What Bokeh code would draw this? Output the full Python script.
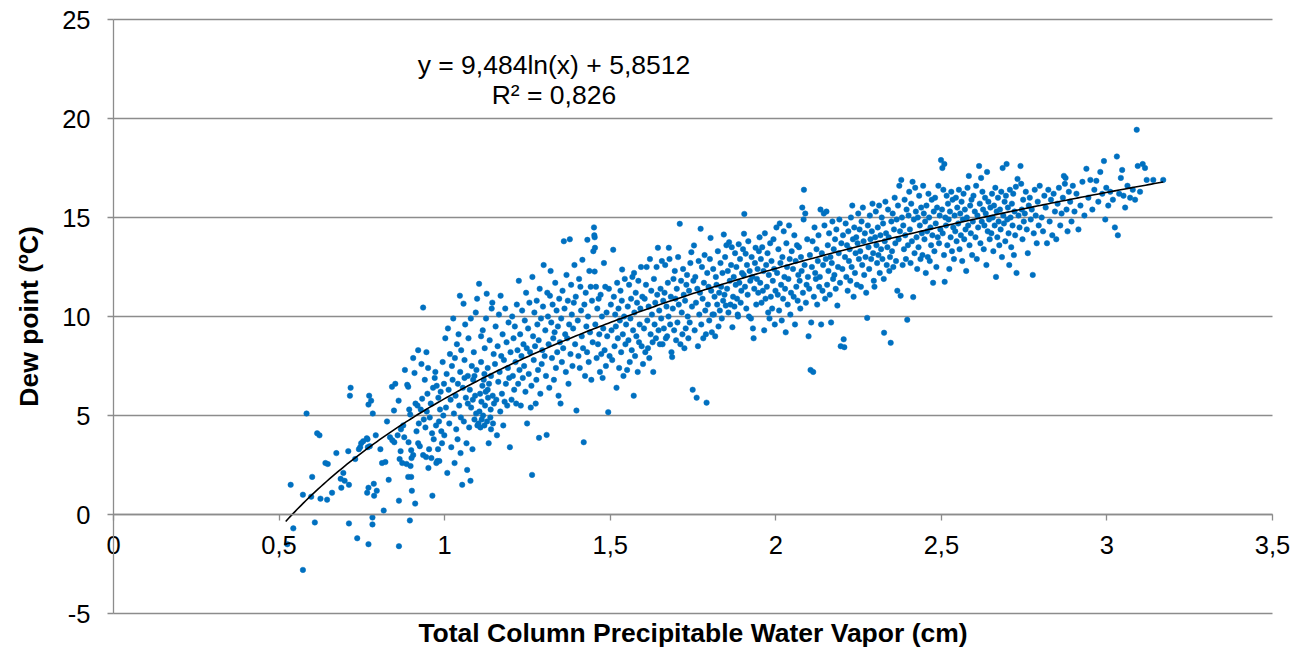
import numpy as np
from bokeh.plotting import figure
from bokeh.models import Label, FixedTicker, CustomJSTickFormatter, Range1d
from bokeh.embed import file_html
from bokeh.resources import INLINE

# ---- data (Total column precipitable water vapour [cm], dew point [ºC]) ----
pts_050_100 = [
    (0.525,-1.5),(0.535,1.5),(0.543,-0.7),(0.572,-2.8),(0.572,1.0),(0.583,5.1),(0.597,0.9),(0.600,1.9),(0.608,-0.4),
    (0.615,4.1),(0.622,4.0),(0.625,0.8),(0.640,2.6),(0.647,2.55),(0.645,0.75),(0.660,1.1),(0.673,3.1),(0.686,1.8),
    (0.688,1.35),(0.694,2.1),(0.698,1.7),
    (0.709,3.2),(0.711,1.5),(0.711,-0.45),(0.714,6.0),(0.716,6.4),(0.730,2.8),(0.736,-1.2),(0.741,3.3),(0.745,3.4),
    (0.748,3.6),(0.754,3.7),(0.765,3.85),(0.766,1.1),(0.767,3.8),(0.768,3.4),(0.770,-1.5),(0.770,1.35),(0.770,5.55),
    (0.772,6.0),(0.774,3.45),(0.778,5.75),(0.782,-0.15),(0.782,-0.5),(0.783,5.1),(0.786,1.55),(0.787,0.95),(0.792,4.0),
    (0.795,1.2),
    (0.806,3.3),(0.811,2.6),(0.816,0.2),(0.821,2.65),(0.826,4.7),(0.831,1.75),(0.835,3.9),(0.841,6.45),(0.842,3.75),
    (0.847,5.25),(0.848,3.65),(0.851,6.6),(0.858,4.0),(0.861,5.75),(0.862,0.7),(0.862,-1.6),(0.864,2.8),(0.867,3.2),
    (0.868,4.3),(0.872,2.6),(0.875,4.5),(0.878,3.9),(0.880,7.3),(0.885,2.55),(0.887,6.55),(0.890,1.9),(0.890,6.45),
    (0.891,3.65),(0.893,5.3),(0.895,-0.3),(0.896,5.05),(0.897,2.45),(0.899,1.9),(0.899,3.25),(0.900,2.85),
    (0.901,1.2),(0.905,3.0),(0.905,7.9),(0.909,7.15),(0.911,0.55),(0.912,5.6),(0.915,4.2),(0.918,5.5),(0.920,3.6),
    (0.920,8.3),(0.922,4.6),(0.925,3.45),(0.928,5.3),(0.930,7.6),(0.932,5.85),(0.935,10.45),(0.935,3.0),(0.937,4.8),
    (0.940,6.8),(0.942,4.4),(0.944,2.9),(0.945,8.2),(0.946,5.2),(0.948,6.1),(0.950,7.4),(0.951,2.35),(0.953,3.3),
    (0.955,4.9),(0.958,5.6),(0.960,2.85),(0.962,4.1),(0.963,0.95),(0.965,6.4),(0.967,3.8),(0.970,6.9),(0.972,7.2),
    (0.974,4.5),(0.975,2.6),(0.976,6.5),(0.978,2.7),(0.980,3.3),(0.981,5.9),(0.983,4.7),(0.984,2.7),(0.986,5.3),
    (0.988,6.2),(0.990,4.2),(0.992,3.6),(0.994,7.7),(0.996,5.0),(0.998,6.6),(0.999,4.0),
]

pts_100_150 = [
    (1.002,8.9),(1.004,5.4),(1.006,7.1),(1.008,2.1),(1.010,9.4),(1.012,6.3),(1.014,4.6),(1.016,8.1),(1.018,5.8),
    (1.020,3.4),(1.022,7.5),(1.024,6.8),(1.026,9.9),(1.028,5.1),(1.030,2.6),(1.031,7.9),(1.033,6.0),(1.035,4.3),
    (1.037,8.6),(1.039,3.8),(1.040,6.6),(1.042,9.1),(1.044,5.5),(1.046,11.05),(1.047,7.2),(1.048,3.1),(1.049,4.9),
    (1.050,8.3),
    (1.053,1.5),(1.055,6.4),(1.057,10.65),(1.058,4.7),(1.060,7.8),(1.062,9.6),(1.064,5.9),(1.066,3.6),(1.068,2.25),
    (1.070,7.0),(1.072,8.9),(1.074,4.4),(1.076,6.3),(1.078,1.7),(1.079,9.9),(1.080,5.4),(1.082,7.5),(1.084,3.3),
    (1.086,6.8),(1.088,8.2),(1.090,4.8),(1.092,6.0),(1.094,10.2),(1.095,5.1),(1.096,7.3),(1.098,10.9),(1.099,4.5),
    (1.060,6.9),(1.070,5.6),(1.085,5.8),(1.090,7.0),
    (1.102,4.6),(1.104,11.65),(1.105,5.2),(1.107,6.1),(1.108,4.4),(1.110,7.7),(1.111,5.7),(1.112,4.8),(1.114,6.5),
    (1.115,9.3),(1.116,5.0),(1.118,6.8),(1.120,4.5),(1.121,8.4),(1.122,5.5),(1.124,6.2),(1.125,9.9),(1.127,11.15),
    (1.128,4.7),(1.130,7.4),(1.131,5.9),(1.133,3.6),(1.134,6.6),(1.136,8.8),(1.138,4.9),(1.139,5.3),(1.140,7.0),
    (1.142,10.4),(1.144,10.7),(1.145,6.0),(1.146,4.6),(1.148,8.1),(1.149,5.6),(1.120,7.1),(1.130,6.3),(1.140,4.3),
    (1.110,9.0),
    (1.152,7.6),(1.154,9.5),(1.156,5.8),(1.158,4.0),(1.160,8.5),(1.162,6.7),(1.164,10.1),(1.166,7.2),(1.168,5.2),
    (1.169,11.05),(1.171,8.0),(1.173,6.1),(1.175,9.1),(1.177,4.5),(1.179,7.8),(1.181,5.7),(1.183,10.4),(1.185,6.6),
    (1.187,8.7),(1.189,5.5),(1.191,7.4),(1.193,9.7),(1.195,6.9),(1.197,3.4),(1.199,8.2),
    (1.202,5.8),(1.204,10.0),(1.206,7.0),(1.208,8.9),(1.210,6.3),(1.212,9.5),(1.214,7.7),(1.216,5.6),(1.218,10.6),
    (1.220,8.3),(1.222,6.6),(1.224,11.8),(1.226,7.3),(1.228,9.1),(1.230,5.5),(1.232,8.0),(1.234,10.3),(1.236,6.9),
    (1.238,8.6),(1.240,7.5),(1.242,9.8),(1.244,6.2),(1.246,11.2),(1.248,8.4),(1.249,4.6),
    (1.252,9.4),(1.254,7.1),(1.256,10.7),(1.258,8.2),(1.260,5.4),(1.262,6.5),(1.264,2.0),(1.265,12.0),(1.267,9.0),
    (1.269,7.8),(1.271,10.2),(1.273,8.5),(1.275,5.6),(1.277,6.8),(1.278,10.8),(1.280,9.6),(1.282,7.3),(1.284,8.8),
    (1.285,3.87),(1.287,11.4),(1.289,6.1),(1.291,9.9),(1.293,7.6),(1.295,8.3),(1.297,10.5),(1.299,12.6),
    (1.302,8.0),(1.304,9.3),(1.306,7.0),(1.308,4.02),(1.310,11.2),(1.312,10.0),(1.314,8.6),(1.316,6.4),(1.318,11.05),
    (1.320,12.3),(1.322,9.7),(1.324,7.9),(1.326,10.6),(1.328,8.9),(1.330,6.8),(1.332,9.2),(1.334,11.7),(1.336,7.4),
    (1.338,10.3),(1.340,8.2),(1.342,9.5),(1.344,6.0),(1.346,10.9),(1.348,8.7),(1.350,5.6),
    (1.352,9.9),(1.354,7.7),(1.356,11.3),(1.358,8.4),(1.360,13.8),(1.362,10.4),(1.364,9.1),(1.366,7.2),(1.368,12.1),
    (1.370,8.9),(1.372,10.8),(1.374,6.6),(1.376,9.6),(1.378,13.9),(1.380,8.1),(1.382,11.6),(1.384,10.1),(1.386,7.5),
    (1.388,9.4),(1.390,10.7),(1.392,12.6),(1.394,8.6),(1.396,11.0),(1.398,5.25),
    (1.402,9.8),(1.404,8.0),(1.406,11.9),(1.408,7.4),(1.410,11.5),(1.412,10.3),(1.414,9.0),(1.416,12.86),(1.418,8.4),
    (1.420,3.65),(1.422,10.6),(1.424,7.0),(1.426,11.2),(1.428,9.5),(1.430,8.2),(1.431,13.87),(1.433,10.0),(1.435,7.7),
    (1.437,12.3),(1.439,9.2),(1.441,11.5),(1.443,6.8),(1.445,10.8),(1.447,8.7),(1.449,13.3),
    (1.451,14.5),(1.452,14.1),(1.453,14.0),(1.454,13.47),(1.453,12.27),(1.455,9.6),(1.457,11.5),(1.459,7.9),(1.461,10.4),
    (1.463,8.6),(1.465,10.9),(1.467,9.1),(1.469,7.2),(1.471,11.1),(1.473,8.1),(1.475,10.0),(1.477,6.9),(1.479,9.4),
    (1.481,12.7),(1.483,8.3),(1.485,11.5),(1.487,7.5),(1.489,10.2),(1.491,9.0),(1.494,5.17),(1.496,11.4),(1.498,8.0),
]

pts_150_200 = [
    (1.502,10.6),(1.504,9.3),(1.506,7.8),(1.509,13.37),(1.511,11.0),(1.513,8.5),(1.515,10.1),(1.517,9.5),(1.519,6.4),
    (1.521,11.7),(1.523,8.9),(1.525,10.4),(1.527,7.4),(1.529,9.8),(1.531,11.3),(1.533,8.2),(1.535,10.8),(1.536,12.37),
    (1.538,9.1),(1.540,7.0),(1.542,10.0),(1.544,11.9),(1.546,8.6),(1.548,9.6),
    (1.551,7.3),(1.553,10.5),(1.555,8.8),(1.557,11.6),(1.559,7.7),(1.561,9.9),(1.563,10.9),(1.565,8.3),(1.567,12.0),
    (1.569,9.3),(1.571,6.0),(1.572,12.2),(1.573,10.2),(1.575,8.0),(1.577,11.2),(1.579,9.0),(1.581,10.7),(1.583,7.2),
    (1.585,11.8),(1.587,8.7),(1.589,9.6),(1.591,10.4),(1.593,12.5),(1.595,8.5),(1.597,11.0),(1.599,7.6),
    (1.602,9.4),(1.604,10.9),(1.606,8.2),(1.608,11.6),(1.610,12.5),(1.612,9.8),(1.614,8.4),(1.616,10.5),(1.618,7.9),
    (1.620,12.9),(1.622,9.1),(1.624,11.3),(1.626,10.1),(1.628,8.7),(1.630,7.2),(1.632,11.9),(1.634,9.6),(1.636,10.7),
    (1.638,8.9),(1.640,12.5),(1.642,11.1),(1.644,13.47),(1.646,9.3),(1.648,10.3),(1.650,8.6),
    (1.652,11.4),(1.654,9.9),(1.656,12.8),(1.658,8.6),(1.660,10.8),(1.662,9.4),(1.664,11.2),(1.666,12.6),(1.668,8.9),
    (1.670,10.5),(1.672,9.0),(1.674,11.7),(1.676,10.0),(1.677,13.47),(1.679,12.9),(1.681,9.6),(1.683,11.0),(1.685,8.2),
    (1.687,7.95),(1.689,10.4),(1.691,11.9),(1.693,9.3),(1.695,12.3),(1.697,10.9),(1.699,8.8),
    (1.701,11.4),(1.703,9.7),(1.705,13.0),(1.707,10.6),(1.710,14.68),(1.712,8.6),(1.714,11.8),(1.716,10.2),(1.718,9.1),
    (1.720,12.4),(1.722,11.1),(1.724,8.4),(1.726,10.8),(1.728,9.4),(1.730,11.6),(1.732,12.1),(1.734,10.0),(1.736,8.9),
    (1.738,11.3),(1.740,9.7),(1.742,12.7),(1.745,13.25),(1.747,10.5),(1.749,6.3),
    (1.751,11.8),(1.753,13.59),(1.755,9.3),(1.757,12.0),(1.759,10.7),(1.761,5.9),(1.763,11.4),(1.765,8.5),(1.767,12.8),
    (1.769,10.1),(1.771,11.2),(1.773,14.43),(1.775,9.6),(1.777,12.5),(1.779,10.9),(1.781,8.9),(1.783,11.7),(1.785,13.1),
    (1.787,10.3),(1.789,9.1),(1.791,5.65),(1.793,12.2),(1.795,10.6),(1.797,11.5),(1.799,9.8),
    (1.801,12.9),(1.803,13.97),(1.805,11.3),(1.807,9.2),(1.809,10.1),(1.811,12.4),(1.813,10.1),(1.815,11.0),(1.817,9.0),
    (1.819,12.0),(1.821,11.6),(1.823,10.6),(1.825,13.3),(1.827,9.5),(1.829,11.2),(1.831,10.3),(1.833,12.7),(1.835,11.5),
    (1.837,9.9),(1.839,12.2),(1.841,10.8),(1.843,14.14),(1.845,11.1),(1.847,13.0),(1.849,10.55),
    (1.851,13.6),(1.853,11.4),(1.855,12.3),(1.857,10.2),(1.859,13.75),(1.861,11.8),(1.863,10.6),(1.865,12.6),(1.867,13.5),
    (1.869,9.46),(1.871,11.0),(1.873,12.0),(1.875,10.5),(1.877,13.2),(1.879,11.6),(1.881,12.5),(1.883,10.9),(1.885,10.1),
    (1.886,10.0),(1.888,13.65),(1.890,11.7),(1.892,12.9),(1.894,10.7),(1.896,11.3),(1.898,12.2),
    (1.901,13.4),(1.903,12.1),(1.904,14.18),(1.905,15.18),(1.907,11.5),(1.909,13.17),(1.911,10.4),(1.913,12.6),(1.915,11.1),
    (1.917,13.8),(1.919,10.0),(1.921,12.3),(1.923,11.8),(1.925,9.9),(1.927,13.0),(1.929,12.0),(1.931,9.4),(1.933,8.9),
    (1.935,11.4),(1.937,12.7),(1.939,13.47),(1.941,10.6),(1.943,11.9),(1.945,12.4),(1.947,11.2),(1.949,13.3),
    (1.951,14.0),(1.953,11.7),(1.955,12.9),(1.957,10.7),(1.959,13.5),(1.961,11.3),(1.963,12.3),(1.965,9.3),(1.967,14.2),
    (1.969,10.9),(1.971,12.6),(1.973,11.5),(1.975,13.2),(1.977,10.2),(1.979,12.1),(1.981,9.9),(1.983,13.7),(1.985,11.0),
    (1.987,12.8),(1.989,10.4),(1.991,11.8),(1.993,13.9),(1.995,12.4),(1.997,9.6),(1.999,11.3),
]

pts_200_250 = [
    (2.002,14.5),(2.004,12.2),(2.006,11.1),(2.008,13.4),(2.010,10.3),(2.012,14.7),(2.014,12.7),(2.016,11.6),(2.018,9.8),
    (2.020,13.0),(2.022,10.9),(2.024,14.3),(2.026,12.0),(2.028,11.4),(2.030,9.2),(2.032,13.7),(2.034,12.5),(2.036,10.6),
    (2.038,11.9),(2.040,14.6),(2.042,12.9),(2.044,10.1),(2.046,11.2),(2.048,13.3),
    (2.052,12.4),(2.054,11.0),(2.056,14.1),(2.058,9.6),(2.060,12.8),(2.062,11.5),(2.064,13.6),(2.066,10.8),(2.068,12.1),
    (2.070,13.5),(2.072,11.8),(2.074,10.4),(2.076,13.0),(2.078,12.3),(2.080,15.5),(2.082,11.2),(2.084,14.9),(2.085,16.4),
    (2.087,12.6),(2.089,15.2),(2.091,10.7),(2.093,11.6),(2.095,13.9),(2.097,12.0),(2.099,9.0),
    (2.101,11.4),(2.103,13.1),(2.105,7.3),(2.107,9.7),(2.109,12.5),(2.111,13.8),(2.113,7.2),(2.115,11.0),(2.117,14.5),
    (2.119,12.2),(2.121,11.9),(2.123,13.4),(2.125,10.6),(2.127,12.8),(2.129,14.1),(2.131,11.5),(2.133,12.0),(2.135,15.4),
    (2.137,9.6),(2.139,13.2),(2.141,11.3),(2.143,12.6),(2.145,15.2),(2.147,14.6),(2.149,10.9),
    (2.151,12.9),(2.153,15.3),(2.155,11.6),(2.157,13.6),(2.159,12.3),(2.161,14.2),(2.163,11.1),(2.165,13.0),(2.167,9.7),
    (2.169,12.7),(2.171,14.8),(2.173,11.9),(2.175,13.4),(2.177,12.1),(2.179,13.9),(2.181,11.4),(2.183,14.4),(2.186,10.55),
    (2.188,12.5),(2.190,13.2),(2.192,14.9),(2.194,11.7),(2.196,8.5),(2.198,13.7),
    (2.201,12.4),(2.203,14.1),(2.205,8.85),(2.207,8.45),(2.209,13.0),(2.211,14.7),(2.213,12.0),(2.215,13.6),(2.217,11.3),
    (2.219,14.3),(2.221,12.8),(2.223,13.4),(2.225,11.8),(2.227,15.0),(2.229,12.5),(2.231,15.6),(2.233,13.9),(2.235,11.0),
    (2.237,14.5),(2.239,12.2),(2.241,13.2),(2.243,14.0),(2.245,11.6),(2.247,13.7),(2.249,15.2),
    (2.251,12.9),(2.253,14.4),(2.255,13.3),(2.257,11.5),(2.259,14.8),(2.261,12.6),(2.263,15.5),(2.265,13.8),(2.267,12.1),
    (2.269,14.2),(2.271,13.0),(2.273,11.2),(2.276,9.93),(2.278,14.6),(2.280,13.5),(2.282,12.4),(2.284,15.1),(2.286,13.9),
    (2.288,12.9),(2.290,14.3),(2.292,15.7),(2.294,13.2),(2.296,11.8),(2.298,11.5),(2.300,14.0),
    (2.302,15.3),(2.304,13.6),(2.306,12.7),(2.308,14.5),(2.310,13.1),(2.312,15.6),(2.314,12.2),(2.316,14.1),(2.318,13.4),
    (2.320,15.0),(2.322,12.9),(2.324,14.7),(2.326,11.9),(2.327,9.18),(2.329,13.8),(2.331,15.8),(2.333,14.2),(2.335,12.6),
    (2.337,13.5),(2.339,15.4),(2.341,14.0),(2.343,12.3),(2.345,13.0),(2.347,8.67),(2.349,14.8),
    (2.351,13.3),(2.353,15.2),(2.355,12.5),(2.357,14.4),(2.359,16.0),(2.361,13.7),(2.363,12.8),(2.365,14.9),(2.367,11.3),
    (2.369,15.6),(2.371,13.9),(2.373,16.6),(2.375,14.3),(2.377,11.05),(2.379,16.9),(2.381,15.0),(2.383,12.6),(2.385,14.6),
    (2.387,13.4),(2.389,15.9),(2.391,14.1),(2.393,12.9),(2.395,15.4),(2.397,9.83),(2.399,13.6),
    (2.401,15.1),(2.403,16.3),(2.405,14.4),(2.407,12.7),(2.409,15.7),(2.411,13.8),(2.413,16.8),(2.415,10.98),(2.417,14.9),
    (2.419,13.2),(2.421,16.5),(2.423,15.3),(2.425,14.0),(2.427,12.4),(2.429,15.0),(2.431,13.5),(2.433,16.1),(2.435,14.6),
    (2.437,12.9),(2.439,15.5),(2.441,14.2),(2.443,13.1),(2.445,16.6),(2.447,15.2),(2.449,13.9),
    (2.451,14.8),(2.453,12.2),(2.455,15.6),(2.457,14.3),(2.459,13.0),(2.461,16.2),(2.463,15.0),(2.465,12.8),(2.467,14.5),
    (2.469,13.6),(2.471,15.9),(2.473,14.1),(2.475,11.7),(2.477,15.3),(2.479,13.3),(2.481,16.0),(2.483,14.7),(2.485,12.5),
    (2.487,15.5),(2.489,14.0),(2.491,16.6),(2.493,13.7),(2.495,15.1),(2.497,14.4),(2.499,17.9),
]

pts_250_320 = [
    (2.503,17.5),(2.509,17.7),
    (2.502,15.4),(2.504,14.2),(2.506,16.4),(2.508,13.1),(2.510,11.75),(2.512,15.0),(2.514,14.6),(2.516,16.1),(2.518,13.6),
    (2.520,15.7),(2.522,14.9),(2.524,12.4),(2.526,15.3),(2.528,14.0),(2.530,16.3),(2.532,13.3),(2.534,15.9),(2.536,14.5),
    (2.538,12.9),(2.540,15.1),(2.542,14.3),(2.544,16.0),(2.546,13.8),(2.548,15.5),
    (2.551,14.7),(2.553,16.4),(2.555,13.4),(2.557,15.2),(2.559,14.1),(2.561,15.8),(2.563,12.8),(2.565,14.9),(2.567,16.2),
    (2.569,13.9),(2.571,15.4),(2.573,14.4),(2.575,12.3),(2.577,15.0),(2.579,16.5),(2.581,14.6),(2.583,17.1),(2.585,13.6),
    (2.587,15.6),(2.589,14.2),(2.591,15.9),(2.593,13.1),(2.595,14.8),(2.597,16.1),
    (2.601,15.3),(2.603,14.0),(2.605,16.6),(2.607,12.9),(2.609,15.1),(2.611,14.5),(2.614,17.6),(2.616,15.7),(2.618,13.7),
    (2.620,17.0),(2.622,14.8),(2.624,16.3),(2.626,15.4),(2.628,13.4),(2.630,14.6),(2.632,16.0),(2.634,15.2),(2.636,12.6),
    (2.638,17.3),(2.640,14.3),(2.642,15.8),(2.644,14.9),(2.646,13.9),(2.648,15.5),
    (2.651,14.2),(2.653,16.2),(2.655,15.0),(2.657,13.3),(2.659,15.6),(2.661,14.6),(2.663,16.5),(2.665,12.0),(2.667,15.3),
    (2.669,14.0),(2.671,16.0),(2.673,14.8),(2.675,13.6),(2.677,15.4),(2.679,14.4),(2.681,16.3),(2.683,13.0),(2.685,17.5),
    (2.687,15.1),(2.689,14.7),(2.691,15.8),(2.693,13.8),(2.695,16.1),(2.697,17.7),(2.699,14.9),
    (2.701,15.5),(2.703,14.2),(2.705,12.6),(2.707,16.4),(2.709,15.0),(2.711,13.5),(2.713,15.7),(2.715,14.6),(2.717,16.2),
    (2.719,13.1),(2.721,15.3),(2.723,14.1),(2.725,16.55),(2.727,12.2),(2.730,16.95),(2.733,15.1),(2.736,14.5),(2.739,17.6),
    (2.741,16.7),(2.743,15.4),(2.745,13.9),(2.747,15.9),(2.749,14.8),
    (2.752,15.2),(2.755,16.3),(2.758,14.4),(2.761,13.2),(2.764,15.6),(2.767,16.0),(2.770,14.9),(2.773,15.4),(2.776,12.1),
    (2.779,14.2),(2.782,16.4),(2.785,15.1),(2.788,13.7),(2.791,15.8),(2.794,14.6),(2.797,16.6),
    (2.803,15.0),(2.807,14.3),(2.811,16.1),(2.815,15.5),(2.819,13.7),(2.823,16.4),(2.827,14.8),(2.831,15.9),(2.835,14.1),
    (2.839,16.2),(2.843,15.3),(2.847,13.9),(2.851,15.7),(2.855,16.5),(2.859,14.6),(2.863,15.2),(2.867,16.0),(2.870,17.1),
    (2.873,16.7),(2.875,17.0),(2.878,15.4),(2.881,14.3),(2.885,16.3),(2.889,15.8),(2.893,14.8),(2.897,16.6),
    (2.902,15.3),(2.908,16.2),(2.914,14.4),(2.920,15.6),(2.926,16.8),(2.932,15.1),(2.938,17.46),(2.944,16.0),(2.950,16.9),
    (2.956,15.4),(2.962,16.4),(2.968,16.85),(2.974,15.8),(2.980,17.3),(2.986,16.2),(2.991,17.85),(2.995,14.9),(2.998,16.5),
    (3.004,15.6),(3.010,16.3),(3.018,15.9),(3.024,14.5),(3.030,18.08),(3.033,14.1),(3.037,16.2),(3.042,17.0),(3.046,17.4),
    (3.050,16.1),(3.055,15.5),(3.062,16.6),(3.070,16.0),(3.078,16.4),(3.085,15.9),(3.090,19.43),(3.093,17.6),(3.100,16.3),
    (3.108,17.7),(3.115,17.5),(3.120,16.9),(3.140,16.9),(3.170,16.9),
]

# logarithmic trend line as printed on the chart
trend_coef = 9.484
trend_const = 5.8512
trend_xmin, trend_xmax = 0.52, 3.17
equation_text = "y = 9,484ln(x) + 5,8512"
r2_text = "R² = 0,826"

x_ticks = [0, 0.5, 1, 1.5, 2, 2.5, 3, 3.5]
y_ticks = [-5, 0, 5, 10, 15, 20, 25]
x_title = "Total Column Precipitable Water Vapor (cm)"
y_title = "Dew point (ºC)"

# ---- build ----
segments = [pts_050_100, pts_100_150, pts_150_200, pts_200_250, pts_250_320]
xs = [p[0] for seg in segments for p in seg]
ys = [p[1] for seg in segments for p in seg]

FONT = "Liberation Sans"
GRID = "#8c8c8c"
W, H = 1295, 650
# plot area in pixels: x 0..3.5 -> 113..1272, y 25..-5 -> 19..613
PL, PR, PT, PB = 113, 1272, 19, 613
xmin, xmax = x_ticks[0], x_ticks[-1]
ymin, ymax = y_ticks[0], y_ticks[-1]
sx = (PR - PL) / (xmax - xmin)
sy = (PB - PT) / (ymax - ymin)
x_range = Range1d(xmin - PL / sx, xmax + (W - PR) / sx)
y_range = Range1d(ymin - (H - PB) / sy, ymax + PT / sy)

p = figure(width=W, height=H, output_backend="svg", toolbar_location=None,
           x_range=x_range, y_range=y_range,
           min_border=0, min_border_left=0, min_border_right=0, min_border_top=0, min_border_bottom=0)
p.title.visible = False
p.outline_line_color = None
p.background_fill_color = "white"
p.border_fill_color = "white"
p.xgrid.visible = False
p.ygrid.visible = False

# horizontal gridlines spanning the plot area only
p.segment(x0=[xmin] * len(y_ticks), x1=[xmax] * len(y_ticks), y0=y_ticks, y1=y_ticks,
          line_color=GRID, line_width=1.3)

fmt = CustomJSTickFormatter(code="return String(tick).replace('.', ',');")

xa = p.xaxis[0]
xa.fixed_location = 0
xa.bounds = (xmin, xmax)
xa.ticker = FixedTicker(ticks=x_ticks)
xa.formatter = fmt
xa.axis_line_color = GRID
xa.axis_line_width = 1.3
xa.major_tick_line_color = GRID
xa.major_tick_line_width = 1.3
xa.major_tick_out = 6
xa.major_tick_in = 0
xa.minor_tick_line_color = None
xa.major_label_text_font = FONT
xa.major_label_text_font_size = "25.5px"
xa.major_label_text_color = "black"
xa.major_label_standoff = 15

ya = p.yaxis[0]
ya.fixed_location = 0
ya.bounds = (ymin, ymax)
ya.ticker = FixedTicker(ticks=y_ticks)
ya.formatter = fmt
ya.axis_line_color = GRID
ya.axis_line_width = 1.3
ya.major_tick_line_color = GRID
ya.major_tick_line_width = 1.3
ya.major_tick_out = 6
ya.major_tick_in = 0
ya.minor_tick_line_color = None
ya.major_label_text_font = FONT
ya.major_label_text_font_size = "25.5px"
ya.major_label_text_color = "black"
ya.major_label_standoff = 17

p.scatter(xs, ys, size=5.5, fill_color="#0070C0", line_color="#0070C0", line_width=0.5)

tx = np.linspace(trend_xmin, trend_xmax, 300)
ty = trend_coef * np.log(tx) + trend_const
p.line(tx, ty, line_color="black", line_width=1.6)

p.add_layout(Label(x=1.33, y=22.68, text=equation_text, text_align="center", text_baseline="middle",
                   text_font=FONT, text_font_size="26.5px", text_color="black"))
p.add_layout(Label(x=1.33, y=21.2, text=r2_text, text_align="center", text_baseline="middle",
                   text_font=FONT, text_font_size="26.5px", text_color="black"))
# axis titles
p.add_layout(Label(x=(xmin + xmax) / 2, y=ymin - 1.0, text=x_title, text_align="center", text_baseline="middle",
                   text_font=FONT, text_font_size="26.5px", text_font_style="bold", text_color="black"))
p.add_layout(Label(x=xmin - 85 / sx, y=(ymin + ymax) / 2, text=y_title, angle=np.pi / 2,
                   text_align="center", text_baseline="middle",
                   text_font=FONT, text_font_size="26.5px", text_font_style="bold", text_color="black"))

open("out.html", "w").write(file_html(p, INLINE))
